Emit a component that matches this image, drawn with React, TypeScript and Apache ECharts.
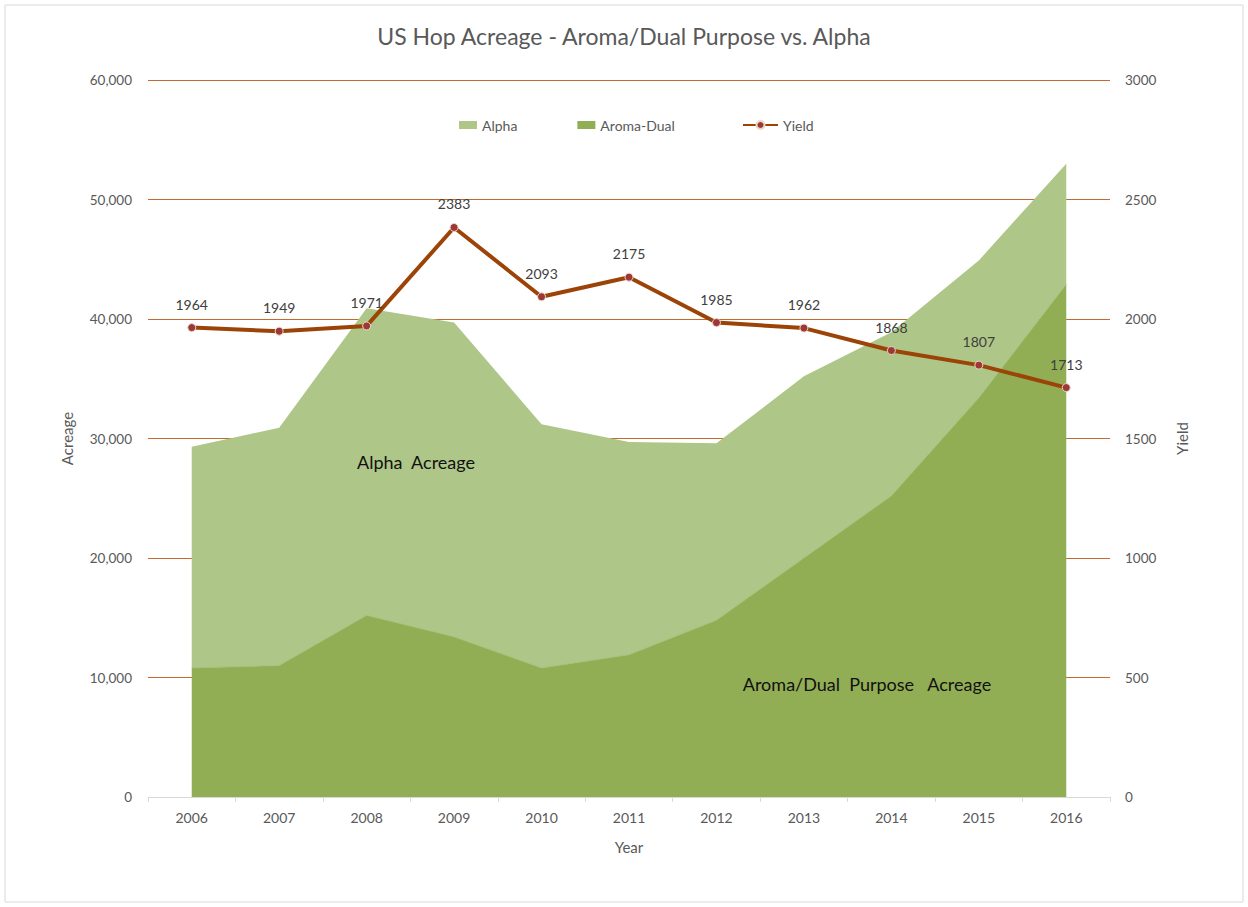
import React, { useEffect, useRef } from "react";
import * as echarts from "echarts";

const years = ["2006", "2007", "2008", "2009", "2010", "2011", "2012", "2013", "2014", "2015", "2016"];
const aromaDual = [10800, 11000, 15200, 13400, 10800, 11900, 14800, 20000, 25200, 33400, 42900];
const alpha = [18500, 19900, 25700, 26300, 20400, 17800, 14800, 15200, 13700, 11500, 10100];
const yieldVals = [1964, 1949, 1971, 2383, 2093, 2175, 1985, 1962, 1868, 1807, 1713];

const FONT = "Lato, 'Open Sans', sans-serif";
const GRID = "#C56A2E";
const AXIS_TEXT = "#595959";

export default function App() {
  const ref = useRef<HTMLDivElement>(null);
  useEffect(() => {
    document.body.style.margin = "0";
    if (!ref.current) return;
    const chart = echarts.init(ref.current, null, { renderer: "svg" });
    chart.setOption({
      animation: false,
      backgroundColor: "#ffffff",
      textStyle: { fontFamily: FONT },
      title: {
        text: "US Hop Acreage - Aroma/Dual Purpose vs. Alpha",
        left: "center",
        top: 19,
        textStyle: { fontFamily: FONT, fontSize: 23, fontWeight: "normal", color: AXIS_TEXT },
      },
      legend: [
        {
          data: ["Alpha", "Aroma-Dual"],
          left: 454,
          top: 113,
          itemWidth: 18,
          itemHeight: 8,
          itemGap: 60,
          icon: "rect",
          textStyle: { fontFamily: FONT, fontSize: 14, color: AXIS_TEXT },
        },
        {
          data: ["Yield"],
          left: 737,
          top: 113,
          itemWidth: 35,
          itemHeight: 10,
          textStyle: { fontFamily: FONT, fontSize: 14, color: AXIS_TEXT },
        },
      ],
      grid: { left: 148, right: 138, top: 80, bottom: 110, containLabel: false },
      xAxis: {
        type: "category",
        data: years,
        boundaryGap: true,
        name: "Year",
        nameLocation: "middle",
        nameGap: 42,
        nameTextStyle: { fontFamily: FONT, fontSize: 15, color: AXIS_TEXT },
        axisLine: { lineStyle: { color: "#D9D9D9", width: 1 } },
        axisTick: { show: true, length: 5, lineStyle: { color: "#D9D9D9" } },
        axisLabel: { fontFamily: FONT, fontSize: 14, color: AXIS_TEXT, margin: 13 },
      },
      yAxis: [
        {
          type: "value",
          min: 0,
          max: 60000,
          interval: 10000,
          name: "Acreage",
          nameLocation: "middle",
          nameRotate: 90,
          nameGap: 74,
          nameTextStyle: { fontFamily: FONT, fontSize: 15, color: AXIS_TEXT },
          axisLine: { show: false },
          axisTick: { show: false },
          axisLabel: {
            fontFamily: FONT,
            fontSize: 13.5,
            color: AXIS_TEXT,
            margin: 16,
            formatter: (v: number) => v.toLocaleString("en-US"),
          },
          splitLine: { show: true, lineStyle: { color: GRID, width: 1 } },
        },
        {
          type: "value",
          min: 0,
          max: 3000,
          interval: 500,
          position: "right",
          name: "Yield",
          nameLocation: "middle",
          nameRotate: 90,
          nameGap: 64,
          nameTextStyle: { fontFamily: FONT, fontSize: 15, color: AXIS_TEXT },
          axisLine: { show: false },
          axisTick: { show: false },
          axisLabel: {
            fontFamily: FONT,
            fontSize: 13.5,
            color: AXIS_TEXT,
            margin: 15,
            formatter: (v: number) => String(v),
          },
          splitLine: { show: false },
        },
      ],
      series: [
        {
          name: "Aroma-Dual",
          type: "line",
          stack: "acreage",
          data: aromaDual,
          symbol: "none",
          lineStyle: { width: 0.8, color: "#A3BD72" },
          itemStyle: { color: "#91AE55" },
          areaStyle: { color: "#91AE55", opacity: 1 },
          z: 2,
        },
        {
          name: "Alpha",
          type: "line",
          stack: "acreage",
          data: alpha,
          symbol: "none",
          lineStyle: { width: 0 },
          itemStyle: { color: "#AEC687" },
          areaStyle: { color: "#AEC687", opacity: 1 },
          z: 1,
        },
        {
          name: "Yield",
          type: "line",
          yAxisIndex: 1,
          data: yieldVals,
          symbol: "circle",
          symbolSize: 8,
          lineStyle: { width: 4, color: "#9C4408" },
          itemStyle: { color: "#9E3838", borderColor: "#E8D8C8", borderWidth: 1 },
          label: {
            show: true,
            position: "top",
            distance: 12,
            fontFamily: FONT,
            fontSize: 14,
            color: "#404040",
          },
          z: 5,
        },
      ],
      graphic: [
        {
          type: "rect",
          shape: { x: 5, y: 5, width: 1238, height: 897 },
          style: { fill: "none", stroke: "#D9D9D9", lineWidth: 1 },
          silent: true,
        },
        {
          type: "text",
          x: 416,
          y: 462,
          style: {
            text: "Alpha  Acreage",
            fontFamily: FONT,
            fontSize: 18,
            fill: "#111111",
            align: "center",
            verticalAlign: "middle",
          },
          z: 10,
        },
        {
          type: "text",
          x: 867,
          y: 684,
          style: {
            text: "Aroma/Dual  Purpose   Acreage",
            fontFamily: FONT,
            fontSize: 18,
            fill: "#111111",
            align: "center",
            verticalAlign: "middle",
          },
          z: 10,
        },
      ],
    });
    return () => chart.dispose();
  }, []);
  return <div ref={ref} style={{ width: 1248, height: 907 }} />;
}
